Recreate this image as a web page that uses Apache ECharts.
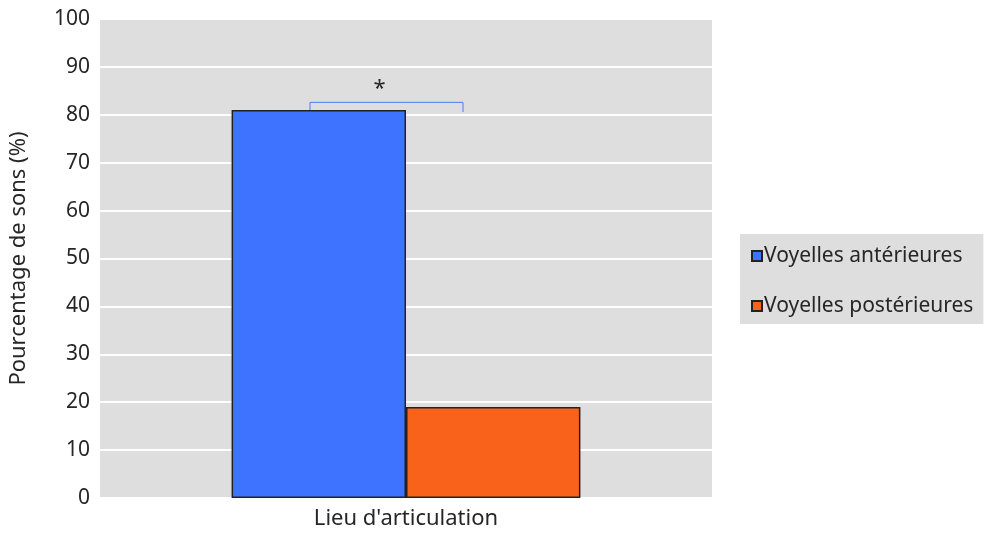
<!DOCTYPE html>
<html>
<head>
<meta charset="utf-8">
<script src="https://cdn.jsdelivr.net/npm/echarts@6/dist/echarts.min.js"></script>
<style>
  html, body { margin: 0; padding: 0; background: #fff; }
  #chart { width: 984px; height: 533px; }
</style>
</head>
<body>
<div id="chart"></div>
<script>
// donnees
const categories = ["Lieu d'articulation"];
const seriesNames = ['Voyelles antérieures', 'Voyelles postérieures'];
const anterieures = [81];
const posterieures = [19];
const colors = ['#3d73fe', '#f8621a'];
const sigLabel = '*';

let chart = echarts.init(document.getElementById('chart'));
const font = 'Noto Sans';
const txt = '#262626';

let option = {
  animation: false,
  textStyle: { fontFamily: font },
  grid: { left: 100, right: 272, top: 19, bottom: 35, backgroundColor: '#dedede', show: true, borderWidth: 0 },
  legend: {
    orient: 'vertical',
    left: 740,
    top: 234,
    padding: [10, 10, 6, 11],
    backgroundColor: '#dedede',
    itemWidth: 10,
    itemHeight: 10,
    itemGap: 26,
    icon: 'rect',
    textStyle: { fontSize: 21, lineHeight: 24, color: txt, fontFamily: font, padding: [0, 0, 0, -3] },
    data: seriesNames
  },
  xAxis: {
    type: 'category',
    data: categories,
    axisLine: { show: false },
    axisTick: { show: false },
    axisLabel: { fontSize: 22, color: txt, margin: 10 }
  },
  yAxis: {
    type: 'value',
    min: 0,
    max: 100,
    interval: 10,
    name: 'Pourcentage de sons (%)',
    nameLocation: 'middle',
    nameGap: 70,
    nameTextStyle: { fontSize: 22, color: txt },
    axisLabel: { fontSize: 21, color: txt, margin: 10 },
    splitLine: { lineStyle: { color: '#ffffff', width: 2 } }
  },
  series: [
    {
      name: seriesNames[0],
      type: 'bar',
      data: anterieures,
      barGap: 0,
      barCategoryGap: '43%',
      itemStyle: { color: colors[0], borderColor: '#222', borderWidth: 1.5 }
    },
    {
      name: seriesNames[1],
      type: 'bar',
      data: posterieures,
      itemStyle: { color: colors[1], borderColor: '#222', borderWidth: 1.5 }
    }
  ]
};
chart.setOption(option);

// crochet de significativite
const yTop = chart.convertToPixel({ yAxisIndex: 0 }, 82.6);
const yLeft = chart.convertToPixel({ yAxisIndex: 0 }, anterieures[0]);
const x0 = 310, x1 = 463;
chart.setOption({
  graphic: [
    {
      type: 'polyline',
      shape: { points: [[x0, yLeft], [x0, yTop], [x1, yTop], [x1, yLeft + 2]] },
      style: { stroke: '#4a7df7', lineWidth: 1, fill: null }
    },
    {
      type: 'text',
      x: (x0 + x1) / 2 - 7,
      y: yTop - 14,
      style: { text: sigLabel, fontSize: 22, fill: txt, fontFamily: font, textAlign: 'center', textVerticalAlign: 'middle' }
    }
  ]
});
</script>
</body>
</html>
